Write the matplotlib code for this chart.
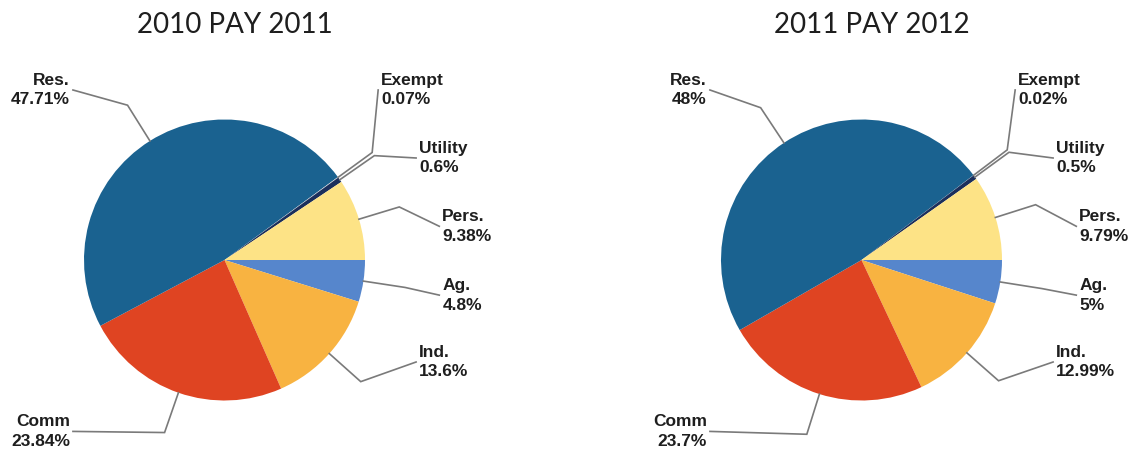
import numpy as np
import matplotlib
matplotlib.use("Agg")
import matplotlib.pyplot as plt

# slice order: clockwise from 3 o'clock
labels = ["Ag.", "Ind.", "Comm", "Res.", "Exempt", "Utility", "Pers."]
vals_2011 = [4.8, 13.6, 23.84, 47.71, 0.07, 0.6, 9.38]
vals_2012 = [5, 12.99, 23.7, 48, 0.02, 0.5, 9.79]
pct_2011 = ["4.8%", "13.6%", "23.84%", "47.71%", "0.07%", "0.6%", "9.38%"]
pct_2012 = ["5%", "12.99%", "23.7%", "48%", "0.02%", "0.5%", "9.79%"]
titles = ["2010 PAY 2011", "2011 PAY 2012"]

colors = ["#5686cc", "#f8b341", "#df4422", "#1a6290", "#d9d9d9", "#1b2f5c", "#fde386"]

# label placement (in pie radii, relative to centre) and side
label_pos = {
    "Ag.": (1.55, -0.25, "left"),
    "Ind.": (1.385, -0.726, "left"),
    "Comm": (-1.1, -1.22, "right"),
    "Res.": (-1.1, 1.21, "right"),
    "Exempt": (1.115, 1.21, "left"),
    "Utility": (1.385, 0.726, "left"),
    "Pers.": (1.55, 0.24, "left"),
}

W, H = 1132, 451
fig = plt.figure(figsize=(W / 100, H / 100), dpi=100)
ax = fig.add_axes([0, 0, 1, 1])
ax.set_xlim(0, W)
ax.set_ylim(0, H)
ax.set_aspect("equal")
ax.axis("off")

R = 140.5
centers = [(224.5, H - 260), (861.5, H - 260)]
title_x = [234.5, 872]

for (cx, cy), vals, pcts, title, tx in zip(centers, [vals_2011, vals_2012],
                                          [pct_2011, pct_2012], titles, title_x):
    wedges, _ = ax.pie(vals, colors=colors, startangle=0, counterclock=False,
                       center=(cx, cy), radius=R, frame=True,
                       wedgeprops=dict(linewidth=0))
    ax.text(tx, H - 25, title, ha="center", va="center", fontsize=20,
            family="Lato", fontweight="normal", color="#1e1e1e")

    for w, lab, pct in zip(wedges, labels, pcts):
        ang = np.deg2rad((w.theta1 + w.theta2) / 2)
        sx, sy = cx + R * np.cos(ang), cy + R * np.sin(ang)
        ex, ey = cx + 1.3 * R * np.cos(ang), cy + 1.3 * R * np.sin(ang)
        lx, ly, side = label_pos[lab]
        px, py = cx + lx * R, cy + ly * R
        endx = px - 3 if side == "left" else px + 3
        ax.plot([sx, ex, endx], [sy, ey, py], color="#7a7a7a", lw=1.2,
                solid_joinstyle="miter")
        ax.text(px, py, lab + "\n" + pct, ha=side, va="center",
                multialignment=side, fontsize=12.5, fontweight="bold",
                family="Liberation Sans", color="#1e1e1e", linespacing=1.4)

ax.set_xlim(0, W)
ax.set_ylim(0, H)
fig.savefig("out.png", dpi=100)
